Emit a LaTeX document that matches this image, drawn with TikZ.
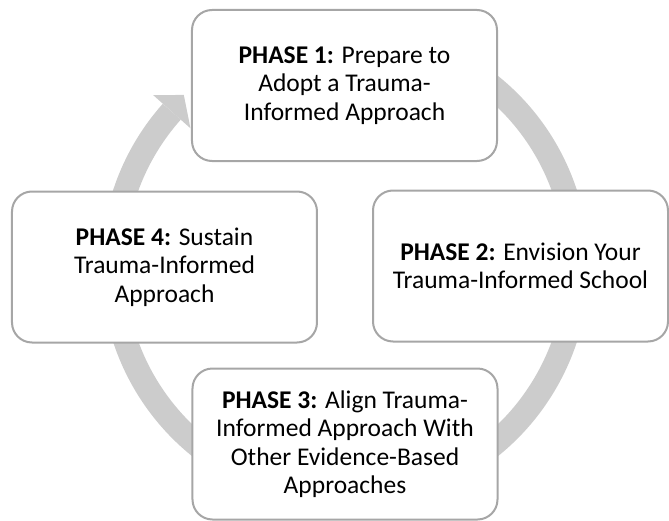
\documentclass[tikz,border=0pt]{standalone}
\usepackage{fontspec}
\setmainfont{Carlito}
\definecolor{ringgray}{RGB}{204,204,204}
\definecolor{boxgray}{RGB}{166,166,166}
\tikzset{
  phasebox/.style={draw=boxgray, line width=2pt, fill=white, rounded corners=20pt,
    minimum width=#1, minimum height=151pt, align=center, inner sep=4pt,
    font=\fontsize{25.5}{28.5}\selectfont},
  phasebox/.default=305pt
}
\begin{document}
\begin{tikzpicture}[x=1pt,y=1pt]
\useasboundingbox (-345,-254) rectangle (324,266);
% ring
\draw[line width=24pt, ringgray] (60:232) arc[start angle=60, end angle=-221.7, radius=232];
\fill[ringgray] (138.3:207) -- (133.3:235) -- (138.3:257) -- cycle;
% boxes
\node[phasebox] (p1) at (-0.5,180.5) {\textbf{PHASE 1:} Prepare to\\Adopt a Trauma-\\Informed Approach};
\node[phasebox=295pt] (p2) at (175.5,0) {\textbf{PHASE 2:} Envision Your\\Trauma-Informed School};
\node[phasebox] (p3) at (0,-178) {\textbf{PHASE 3:} Align Trauma-\\Informed Approach With\\Other Evidence-Based\\Approaches};
\node[phasebox] (p4) at (-180.5,-1) {\textbf{PHASE 4:} Sustain\\Trauma-Informed\\Approach};
\end{tikzpicture}
\end{document}
